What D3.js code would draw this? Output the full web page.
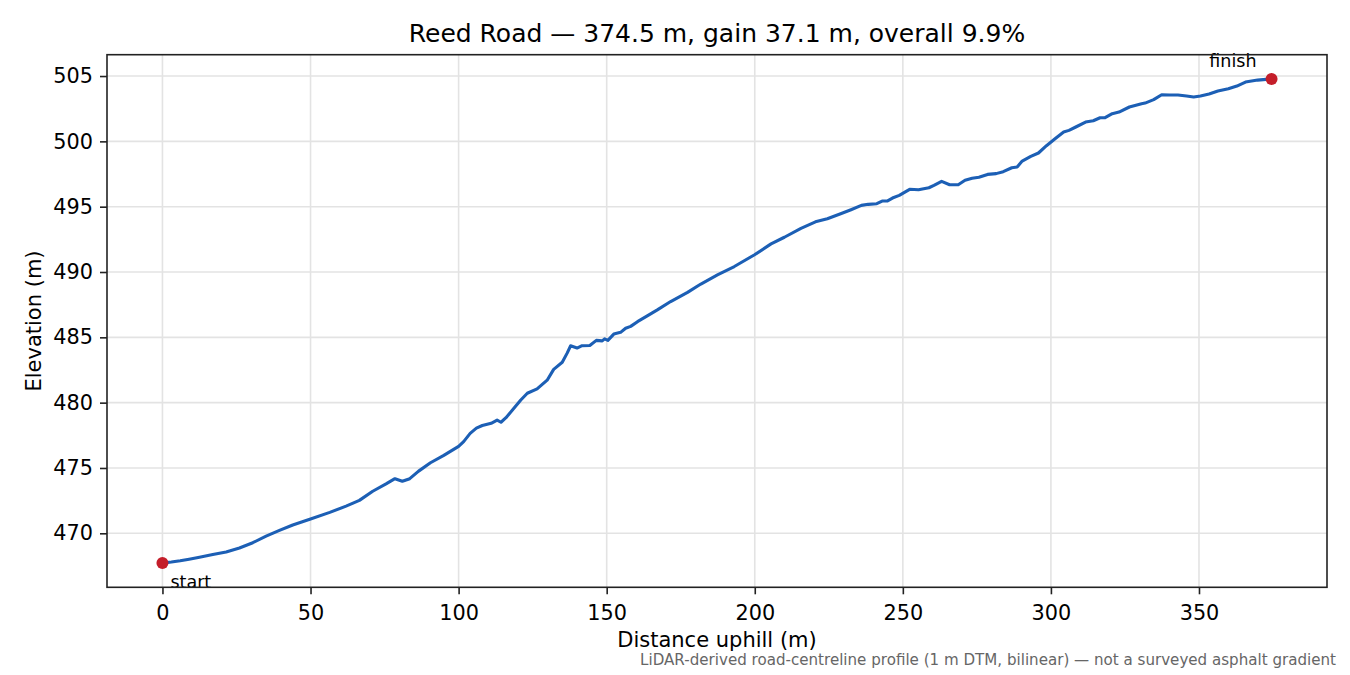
<!DOCTYPE html>
<html>
<head>
<meta charset="utf-8">
<script src="https://cdn.jsdelivr.net/npm/d3@7"></script>
<style>
  body { margin: 0; background: #fff; }
  text { font-family: "DejaVu Sans", sans-serif; fill: #000; }
</style>
</head>
<body>
<div id="profile"></div>
<script>
// distance along the road (m) and elevation (m)
var distance = [0, 3, 6, 9, 12.5, 17, 21.5, 26, 30.5, 35, 39.5, 44, 50, 56.5, 62, 66.5, 71, 75.5,
  78.5, 81, 83.5, 86.5, 90.5, 95, 100, 101.7, 103.9, 106, 108, 111, 113, 114.3, 116, 118.6,
  121, 123.2, 126.5, 129.9, 132.1, 135, 136.7, 137.8, 140, 141.7, 144.3, 146.5, 148.5, 149.3,
  150.4, 152.4, 154.7, 156.4, 158.1, 160.4, 163.7, 167.1, 171.6, 177.3, 181.8, 187.4, 193.1,
  199.8, 205.5, 210, 215.6, 220.5, 224.5, 229, 232.5, 236, 238.3, 241.2, 243, 244.7, 246.5,
  248.8, 252.3, 255.3, 258.8, 260.5, 263.1, 265.8, 268.7, 271, 273.4, 275.7, 278.6, 281.5,
  283.9, 286.8, 288.6, 290.3, 293.2, 295.8, 298.5, 301.4, 304.3, 306.1, 308.4, 311.7, 314.3,
  316.6, 318.3, 320.7, 323, 326.5, 330.6, 331.8, 334.7, 337.4, 340, 342.9, 345.8, 348.2,
  350.5, 353.4, 356.4, 359.9, 362.8, 365.7, 369.8, 374.5];
var elevation = [467.72, 467.80, 467.90, 468.02, 468.17, 468.38, 468.57, 468.88, 469.28, 469.78,
  470.22, 470.64, 471.10, 471.60, 472.08, 472.52, 473.22, 473.78,
  474.18, 473.98, 474.18, 474.76, 475.40, 475.96, 476.65, 477.02, 477.65, 478.05, 478.25,
  478.42, 478.66, 478.50, 478.85, 479.55, 480.20, 480.72, 481.05, 481.72, 482.55, 483.09,
  483.81, 484.35, 484.18, 484.36, 484.37, 484.77, 484.73, 484.88, 484.77, 485.25, 485.38,
  485.70, 485.84, 486.20, 486.64, 487.10, 487.74, 488.44, 489.08, 489.78, 490.42, 491.30,
  492.15, 492.66, 493.34, 493.84, 494.08, 494.46, 494.77, 495.10, 495.18, 495.23, 495.43,
  495.43, 495.66, 495.87, 496.33, 496.30, 496.45, 496.63, 496.94, 496.68, 496.68, 497.02,
  497.17, 497.25, 497.47, 497.53, 497.68, 497.98, 498.04, 498.49, 498.85, 499.11, 499.67,
  500.20, 500.71, 500.84, 501.10, 501.48, 501.58, 501.81, 501.81, 502.12, 502.24, 502.63,
  502.88, 502.93, 503.19, 503.57, 503.55, 503.55, 503.47, 503.39, 503.47, 503.62, 503.85,
  504.03, 504.23, 504.54, 504.69, 504.78];

var xTicks = [0, 50, 100, 150, 200, 250, 300, 350];
var yTicks = [470, 475, 480, 485, 490, 495, 500, 505];

var titleText = "Reed Road \u2014 374.5 m, gain 37.1 m, overall 9.9%";
var noteText = "LiDAR-derived road-centreline profile (1 m DTM, bilinear) \u2014 not a surveyed asphalt gradient";

var data = distance.map(function (d, i) { return {d: d, e: elevation[i]}; });

// set the dimensions and margins of the graph
var margin = {top: 54.7, right: 23, bottom: 87.7, left: 107},
  width = 1350 - margin.left - margin.right,
  height = 675 - margin.top - margin.bottom;

var svg = d3.select("#profile")
  .append("svg")
  .attr("width", 1350)
  .attr("height", 675);

var g = svg.append("g")
  .attr("transform", "translate(" + margin.left + "," + margin.top + ")");

// 5% padding like matplotlib autoscale
var xExt = d3.extent(distance), yExt = d3.extent(elevation);
var xPad = (xExt[1] - xExt[0]) * 0.05, yPad = (yExt[1] - yExt[0]) * 0.05;

var x = d3.scaleLinear()
  .domain([xExt[0] - xPad, xExt[1] + xPad])
  .range([0, width]);
var y = d3.scaleLinear()
  .domain([yExt[0] - yPad, yExt[1] + yPad])
  .range([height, 0]);

// grid
g.append("g").selectAll("line").data(xTicks).enter().append("line")
  .attr("x1", function (d) { return x(d); })
  .attr("x2", function (d) { return x(d); })
  .attr("y1", 0).attr("y2", height)
  .attr("stroke", "#e3e3e3").attr("stroke-width", 1.6);
g.append("g").selectAll("line").data(yTicks).enter().append("line")
  .attr("y1", function (d) { return y(d); })
  .attr("y2", function (d) { return y(d); })
  .attr("x1", 0).attr("x2", width)
  .attr("stroke", "#e3e3e3").attr("stroke-width", 1.6);

// profile line
var line = d3.line()
  .x(function (d) { return x(d.d); })
  .y(function (d) { return y(d.e); });

g.append("path")
  .datum(data)
  .attr("fill", "none")
  .attr("stroke", "#1c5fb5")
  .attr("stroke-width", 3.1)
  .attr("stroke-linejoin", "round")
  .attr("d", line);

// start / finish markers
var first = data[0], last = data[data.length - 1];
g.selectAll("circle.end")
  .data([first, last])
  .enter()
  .append("circle")
  .attr("class", "end")
  .attr("cx", function (d) { return x(d.d); })
  .attr("cy", function (d) { return y(d.e); })
  .attr("r", 6)
  .attr("fill", "#c41e2a");

g.append("text")
  .attr("x", x(first.d) + 8)
  .attr("y", y(first.e) + 25)
  .style("font-size", "17.5px")
  .text("start");

g.append("text")
  .attr("x", x(last.d) - 15)
  .attr("y", y(last.e) - 12)
  .attr("text-anchor", "end")
  .style("font-size", "17.5px")
  .text("finish");

// axes
var xAxis = g.append("g")
  .attr("transform", "translate(0," + height + ")")
  .call(d3.axisBottom(x).tickValues(xTicks).tickSize(7).tickPadding(7).tickFormat(d3.format("d")));
var yAxis = g.append("g")
  .call(d3.axisLeft(y).tickValues(yTicks).tickSize(7).tickPadding(7).tickFormat(d3.format("d")));

[xAxis, yAxis].forEach(function (a) {
  a.select(".domain").remove();
  a.selectAll(".tick line").attr("stroke", "#222").attr("stroke-width", 1.6);
  a.selectAll(".tick text").style("font-size", "20.8px").attr("fill", "#000");
});
xAxis.selectAll(".tick text").attr("dy", "0.92em");

// frame
g.append("rect")
  .attr("width", width).attr("height", height)
  .attr("fill", "none")
  .attr("stroke", "#222")
  .attr("stroke-width", 1.6);

// labels
svg.append("text")
  .attr("x", margin.left + width / 2)
  .attr("y", 42)
  .attr("text-anchor", "middle")
  .style("font-size", "25px")
  .text(titleText);

svg.append("text")
  .attr("x", margin.left + width / 2)
  .attr("y", 647)
  .attr("text-anchor", "middle")
  .style("font-size", "21px")
  .text("Distance uphill (m)");

svg.append("text")
  .attr("transform", "translate(41," + (margin.top + height / 2) + ") rotate(-90)")
  .attr("text-anchor", "middle")
  .style("font-size", "21px")
  .text("Elevation (m)");

svg.append("text")
  .attr("x", 1336)
  .attr("y", 665)
  .attr("text-anchor", "end")
  .style("font-size", "15.1px")
  .style("fill", "#666")
  .text(noteText);
</script>
</body>
</html>
